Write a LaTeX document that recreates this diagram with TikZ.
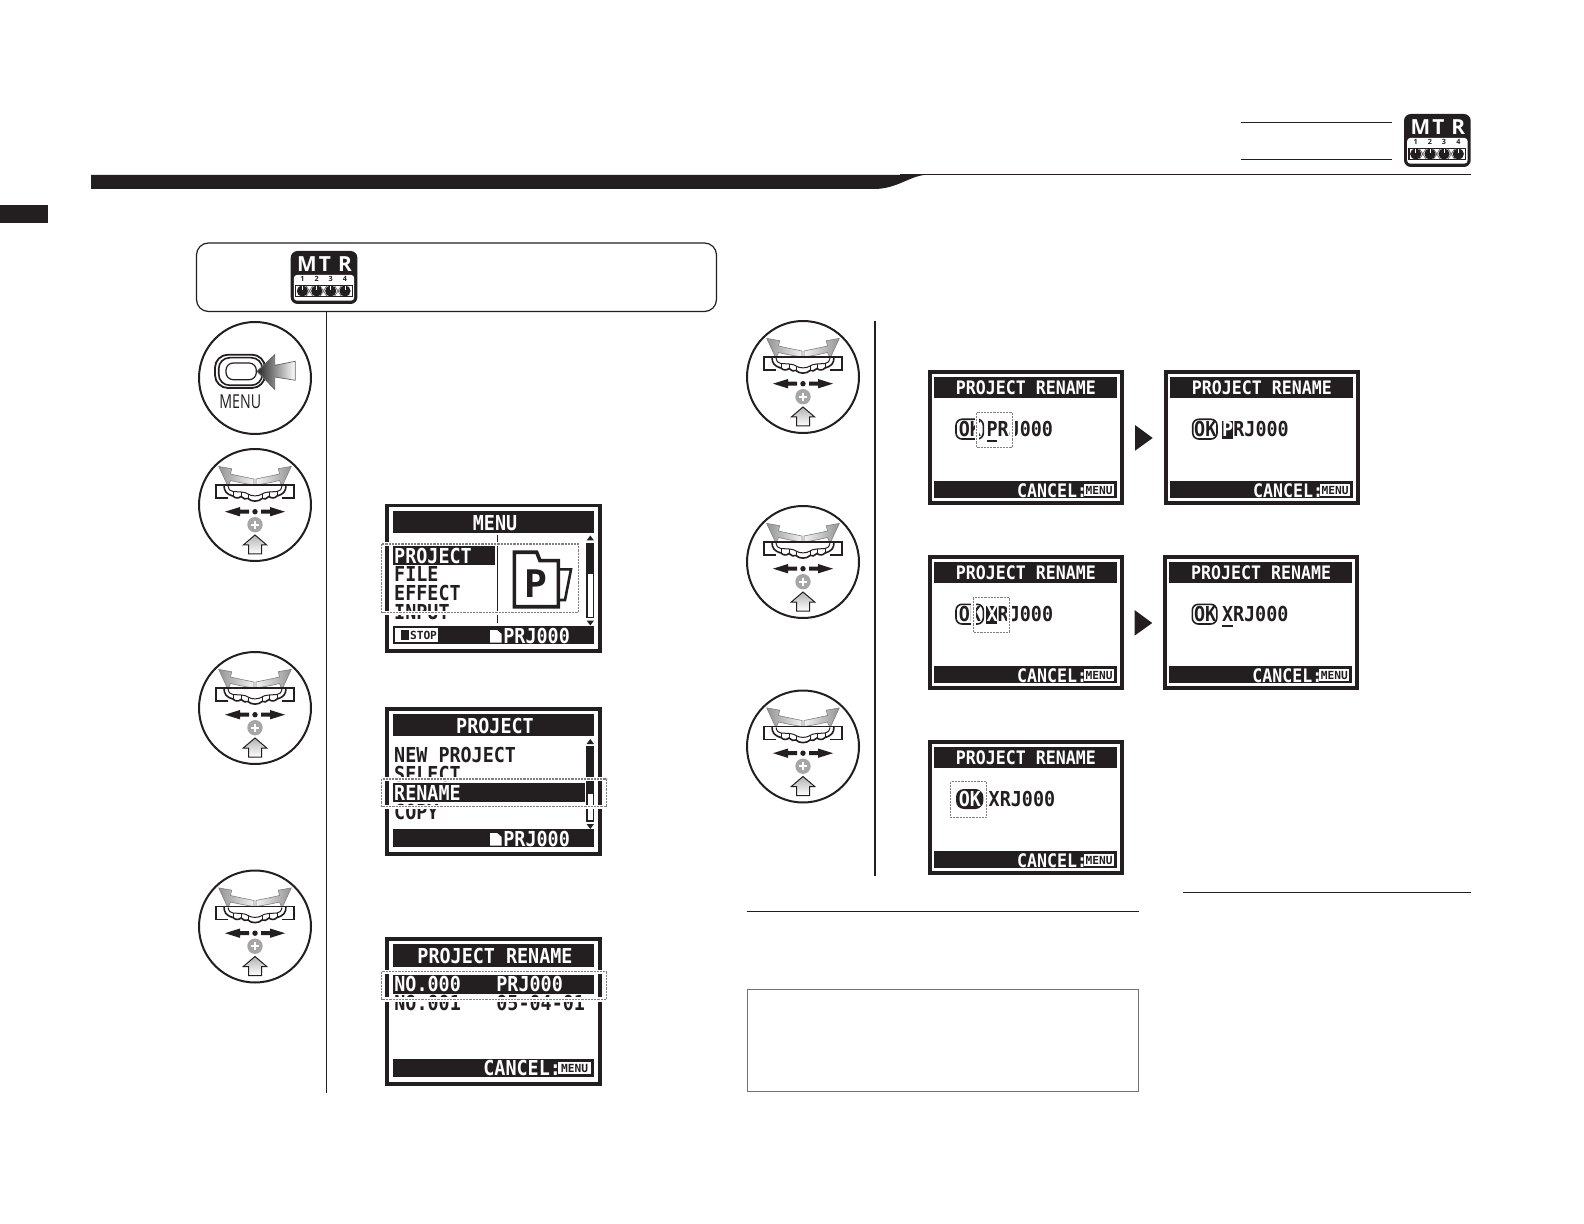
\documentclass[tikz,border=0pt]{standalone}
\usepackage{fontspec}
\setmainfont{Open Sans}
\newfontfamily\lcdfam{DejaVu Sans Mono}
\newfontfamily\iconfam{Open Sans}
\definecolor{ink}{HTML}{231F20}
\newcommand{\lcdA}{\lcdfam\bfseries\fontsize{9.2}{9.2}\selectfont}
\newcommand{\lcdB}{\lcdfam\bfseries\fontsize{8.3}{8.3}\selectfont}
\newcommand{\lcdC}{\lcdfam\bfseries\fontsize{5.6}{5.6}\selectfont}
\tikzset{
  txt/.style={inner sep=0pt,text height=6.8pt,text depth=0pt,anchor=west,text=ink,yscale=1.12,transform shape},
  ttl/.style={inner sep=0pt,text height=6.8pt,text depth=0pt,anchor=center,text=white,yscale=1.12,transform shape},
  tiny/.style={inner sep=0pt,text height=4.2pt,text depth=0pt,anchor=center,text=ink},
  rule/.style={draw=ink,line width=.5pt},
  halo/.style={draw=white,line width=2.2pt},
  dashbox/.style={draw=black!50,line width=.7pt,dash pattern=on 1.1pt off .5pt},
  plainok/.style={draw=ink,line width=.8pt,fill=white,rounded corners=3pt},
  mtricon/.pic={
    \fill[ink,rounded corners=3.4pt] (0,0) rectangle (66.7,53);
    \fill[white,rounded corners=1.5pt] (3.2,24) rectangle (63.5,49.6);
    \node[inner sep=0pt,text=white] (m) at (16.3,13.5) {\iconfam\bfseries\fontsize{10.4}{10.4}\selectfont M};
    \node[inner sep=0pt,text=white] (t) at (34.3,13.5) {\iconfam\bfseries\fontsize{10.4}{10.4}\selectfont T};
    \node[inner sep=0pt,text=white] (r) at (54.3,13.5) {\iconfam\bfseries\fontsize{10.4}{10.4}\selectfont R};
    \foreach \n/\xx in {1/11.7,2/26,3/40,4/54.3}{
      \node[inner sep=0pt,text=ink] (d\n) at (\xx,28.3) {\iconfam\bfseries\fontsize{3.6}{3.6}\selectfont \n};
    }
    \draw[ink,line width=.6pt] (5,34.5) rectangle (61.5,45.5);
    \foreach \xa/\xb in {15.5/22,29.5/36,44/50.5}{
      \draw[black!55,line width=.4pt] (\xa,35) -- (\xb,45) (\xa,45) -- (\xb,35);
    }
    \foreach \xx in {11.7,26,40,54.3}{
      \fill[ink] (\xx,40) circle[radius=5.6];
      \draw[white,line width=.5pt] (\xx,34.6) -- (\xx,39);
    }
  },
  menuicon/.pic={
    \draw[ink,line width=1pt,fill=white] (0,0) circle[radius=56];
    \draw[ink,line width=.9pt,rounded corners=6.5pt] (-40,-23.3) rectangle (10,10);
    \draw[ink,line width=.8pt,rounded corners=5.5pt] (-36.3,-20.3) rectangle (7.3,7.3);
    \draw[ink,line width=.6pt,rounded corners=3.6pt] (-29,-15) rectangle (1.3,1.7);
    \path[draw=black!60,line width=.35pt,left color=black!85,right color=white]
      (2,-6.7) -- (19.7,-23.3) -- (19.7,-12.7) -- (40.3,-16.7) -- (40.3,2.3) -- (19.7,-1) -- (19.7,11.3) -- cycle;
    \node[inner sep=0pt,text=ink] (lbl) at (-14.7,24) {\scalebox{.74}[1]{\fontsize{9.6}{9.6}\selectfont MENU}};
  },
  dial/.pic={
    \draw[ink,line width=1pt,fill=white] (0,0) circle[radius=56];
    \path[draw=black!50,line width=.3pt,left color=black!42,right color=black!5]
      (-36.3,-38.6) -- (-23.3,-36.3) -- (-24.5,-31) .. controls (-16,-29) and (-8,-27.5) .. (-1,-26)
      -- (-1,-20) .. controls (-8,-21) and (-16,-22.5) .. (-24.5,-24.5) -- (-27,-18.6) -- cycle;
    \path[draw=black!50,line width=.3pt,right color=black!42,left color=black!5]
      (36.3,-38.6) -- (23.3,-36.3) -- (24.5,-31) .. controls (16,-29) and (8,-27.5) .. (1,-26)
      -- (1,-20) .. controls (8,-21) and (16,-22.5) .. (24.5,-24.5) -- (27,-18.6) -- cycle;
    \fill[white] (-39,-20) -- (39,-20) -- (39,-7) -- (31,-7) -- (0,-3) -- (-31,-7) -- (-39,-7) -- cycle;
    \draw[ink,line width=.9pt] (-39,-20) -- (39,-20);
    \draw[ink,line width=.9pt] (-31,-20) -- (-39,-20) -- (-39,-7) -- (-27,-7);
    \draw[ink,line width=.9pt] (31,-20) -- (39,-20) -- (39,-7) -- (27,-7);
    \draw[ink,line width=.8pt] (-31,-20) .. controls (-31,-14) and (-29,-11) .. (-22,-9)
       .. controls (-20,-6.5) and (-16,-6.5) .. (-14,-8.5) .. controls (-12,-6) and (-9,-5.5) .. (-7,-6.5)
       .. controls (-4,-3) and (4,-3) .. (7,-6.5)
       .. controls (9,-5.5) and (12,-6) .. (14,-8.5) .. controls (16,-6.5) and (20,-6.5) .. (22,-9)
       .. controls (29,-11) and (31,-14) .. (31,-20);
    \draw[ink,line width=.5pt] (-27,-19) .. controls (-26,-15) and (-25,-14) .. (-22,-13.5) -- (-14,-13) .. controls (-10,-12.5) and (-8,-12) .. (-7,-11) .. controls (-4,-8.5) and (4,-8.5) .. (7,-11)
       .. controls (8,-12) and (10,-12.5) .. (14,-13) -- (22,-13.5) .. controls (25,-14) and (26,-15) .. (27,-19);
    \draw[ink,line width=.5pt] (-22,-13.5) -- (-22,-9) (-14,-13) -- (-14,-8.5) (-7,-11) -- (-7,-6.5) (7,-11) -- (7,-6.5) (14,-13) -- (14,-8.5) (22,-13.5) -- (22,-9);
    \fill[ink] (-30,6.7) -- (-15,2) -- (-15,4.7) -- (-6,4.7) -- (-6,8.7) -- (-15,8.7) -- (-15,11.4) -- cycle;
    \fill[ink] (30,6.7) -- (15,2) -- (15,4.7) -- (6,4.7) -- (6,8.7) -- (15,8.7) -- (15,11.4) -- cycle;
    \fill[ink] (0,6.7) circle[radius=2.7];
    \fill[black!35] (0,19.7) circle[radius=7.7];
    \draw[white,line width=1.1pt] (-4,19.7) -- (4,19.7) (0,15.7) -- (0,23.7);
    \path[draw=ink,line width=.5pt,top color=black!30,bottom color=white] (0,30) -- (11.7,40) -- (6.5,40) -- (6.5,49) -- (-6.5,49) -- (-6.5,40) -- (-11.7,40) -- cycle;
  },
  bigframe/.pic={
    \draw[ink,line width=1.75pt] (1.75,1.75) rectangle (214.9,146.9);
    \fill[ink] (8.3,6.8) rectangle (209,29.4);
    \fill[ink] (8.3,121.5) rectangle (209,140);
    \node[ttl] (title) at (110,18.8) {\lcdA #1};
  },
  smallframe/.pic={
    \draw[ink,line width=2pt] (2,2) rectangle (194,133);
    \fill[ink] (6,6.7) rectangle (188.7,27.7);
    \fill[ink] (6,111) rectangle (188.7,128.3);
    \node[ttl] (title) at (97.8,17.3) {\lcdB PROJECT RENAME};
    \node[txt,text=white] (cancel) at (88.7,119.5) {\lcdB CANCEL:};
    \fill[white] (156,114) rectangle (186,126);
    \node[tiny] (key) at (171,120) {\lcdC MENU};
  },
  scrollbar/.pic={
    \fill[ink] (0,-8) -- (3.7,-3) -- (-3.7,-3) -- cycle;
    \fill[ink] (0,82) -- (3.7,77) -- (-3.7,77) -- cycle;
    \draw[ink,line width=.6pt] (-3.4,0) rectangle (3.4,74);
    \fill[ink] (-3.4,0) rectangle (3.4,#1);
  },
  docicon/.pic={
    \fill[white] (0,0) -- (7,0) -- (11.7,4) -- (11.7,12.7) -- (0,12.7) -- cycle;
  }
}
\begin{document}
\begin{tikzpicture}[x=.5pt,y=-.5pt]
\useasboundingbox (0,0) rectangle (1584,1224);
\fill[white] (0,0) rectangle (1584,1224);

% page header
\fill[ink] (91,174.8) -- (925,174.8) .. controls (908,177) and (897,188.5) .. (875,189) -- (91,189) -- cycle;
\draw[ink,line width=.5pt] (900,175) -- (1471,175);
\fill[ink] (0,205) rectangle (47.5,223);
\draw[rule] (1241,122.3) -- (1392,122.3);
\draw[rule] (1241,159.3) -- (1392,159.3);
\pic (mtrtop) at (1404,114) {mtricon};

% left panel
\draw[draw=ink,line width=.6pt,rounded corners=6pt] (196.5,243) rectangle (716.5,311.5);
\pic (mtrbox) at (290.7,251) {mtricon};
\draw[rule] (326.3,311.5) -- (326.3,1093);
\draw[rule,line width=.75pt] (875,321) -- (875,876);

\pic (c1) at (255,378) {menuicon};
\pic (c2) at (255,505) {dial};
\pic (c3) at (255,708) {dial};
\pic (c4) at (255,926.5) {dial};
\pic (c5) at (803,377) {dial};
\pic (c6) at (803,562) {dial};
\pic (c7) at (803,746.5) {dial};

% screen: MENU
\pic (s1) at (385,504) {bigframe={MENU}};
\fill[ink] (393.3,546) rectangle (495,565);
\node[txt,text=white] (m1) at (393.8,555.7) {\lcdA PROJECT};
\node[txt] (m2) at (393.8,574) {\lcdA FILE};
\node[txt] (m3) at (393.8,592.7) {\lcdA EFFECT};
\node[txt] (m4) at (393.8,612) {\lcdA INPUT};
\draw[ink,line width=.45pt] (497.3,535) -- (497.3,623);
\draw[ink,line width=1.8pt] (514.3,552.3) -- (536.7,552.3) -- (540,560.7) -- (558.3,560.7) -- (558.3,606.7) -- (514.3,606.7) -- cycle;
\draw[ink,line width=1.3pt] (558.3,569.3) -- (571,569.3) -- (565,600) -- (558.3,600);
\node[inner sep=0pt,text=ink] (mp) at (535.5,584) {\lcdfam\bfseries\fontsize{19}{19}\selectfont P};
\pic (sb1) at (590.3,543.5) {scrollbar=30};
\fill[white] (395,628.3) rectangle (437.7,641.7);
\fill[ink] (400.7,630) rectangle (409.3,640);
\node[tiny] (mstop) at (423.5,635) {\lcdC STOP};
\pic (d1) at (490,630) {docicon};
\node[txt,text=white] (mprj) at (503,635.7) {\lcdA PRJ000};
\draw[halo] (381.7,544) rectangle (578.3,612.7);
\draw[dashbox] (381.7,544) rectangle (578.3,612.7);

% screen: PROJECT
\pic (s2) at (385,707) {bigframe={PROJECT}};
\node[txt] (p1) at (393.8,755) {\lcdA NEW PROJECT};
\node[txt] (p2) at (393.8,774) {\lcdA SELECT};
\fill[ink] (393.3,783.3) rectangle (585,801.7);
\node[txt,text=white] (p3) at (393.8,792.7) {\lcdA RENAME};
\node[txt] (p4) at (393.8,811.7) {\lcdA COPY};
\pic (sb2) at (590.3,747) {scrollbar=47};
\pic (d2) at (490,833) {docicon};
\node[txt,text=white] (pprj) at (503,839) {\lcdA PRJ000};
\draw[halo] (381.7,779) rectangle (606.7,806.7);
\draw[dashbox] (381.7,779) rectangle (606.7,806.7);

% screen: PROJECT RENAME list
\pic (s3) at (385,937.3) {bigframe={PROJECT RENAME}};
\fill[ink] (393.3,975) rectangle (594,994);
\node[txt,text=white] (l1) at (394,984.3) {\lcdA NO.000};
\node[txt,text=white] (l2) at (496,984.3) {\lcdA PRJ000};
\node[txt] (l3) at (394,1002.7) {\lcdA NO.001};
\node[txt] (l4) at (496,1002.7) {\lcdA 05-04-01};
\node[txt,text=white] (lc) at (483,1068.3) {\lcdA CANCEL:};
\fill[white] (558.3,1061.7) rectangle (590.7,1074.3);
\node[tiny] (lk) at (574.5,1068) {\lcdC MENU};
\draw[halo] (381.7,971.7) rectangle (606.7,999.3);
\draw[dashbox] (381.7,971.7) rectangle (606.7,999.3);

% small screens
\begin{scope}[shift={(928,370)}]
  \pic (a) at (0,0) {smallframe};
  \draw[plainok] (28,49.3) rectangle (55.3,69);
  \node[txt] (aok) at (30.5,59) {\lcdA OK};
  \node[txt] (atx) at (58.2,59) {\lcdA PRJ000};
  \fill[ink] (58.7,69.6) rectangle (69,71.6);
  \draw[halo] (48.7,42.7) rectangle (84.3,77.3);
  \draw[dashbox] (48.7,42.7) rectangle (84.3,77.3);
\end{scope}
\begin{scope}[shift={(1164,370)}]
  \pic (b) at (0,0) {smallframe};
  \draw[plainok] (28.7,49.3) rectangle (53,69);
  \node[txt] (bok) at (29.8,59) {\lcdA OK};
  \fill[ink] (57.7,50.8) rectangle (68.7,69);
  \node[txt,text=white] (bp) at (57.7,59) {\lcdA P};
  \node[txt] (btx) at (69,59) {\lcdA RJ000};
\end{scope}
\begin{scope}[shift={(928,555)}]
  \pic (c) at (0,0) {smallframe};
  \draw[plainok] (28,49.3) rectangle (55.3,69);
  \node[txt] (cok) at (30.5,59) {\lcdA OK};
  \fill[ink] (58,50.8) rectangle (69.3,69);
  \node[txt,text=white] (cx) at (58.1,59) {\lcdA X};
  \node[txt] (ctx) at (69.3,59) {\lcdA RJ000};
  \draw[halo] (45.3,42.7) rectangle (81.3,77.3);
  \draw[dashbox] (45.3,42.7) rectangle (81.3,77.3);
\end{scope}
\begin{scope}[shift={(1163.3,555)}]
  \pic (d) at (0,0) {smallframe};
  \draw[plainok] (29,49.3) rectangle (53.5,69);
  \node[txt] (dok) at (30.3,59) {\lcdA OK};
  \node[txt] (dtx) at (58.3,59) {\lcdA XRJ000};
  \fill[ink] (58.3,69.6) rectangle (69.3,71.6);
\end{scope}
\begin{scope}[shift={(928,740)}]
  \pic (e) at (0,0) {smallframe};
  \draw[halo] (22.7,41.7) rectangle (58.7,77.7);
  \draw[dashbox] (22.7,41.7) rectangle (58.7,77.7);
  \fill[ink,rounded corners=4pt] (28,49) rectangle (55.3,69);
  \node[txt,text=white] (eok) at (30.5,58.5) {\lcdA OK};
  \node[txt] (etx) at (60.3,58.5) {\lcdA XRJ000};
\end{scope}

% arrows between screens
\fill[ink] (1135,425) -- (1152.7,438) -- (1135,450.7) -- cycle;
\fill[ink] (1134.5,610) -- (1152.2,623) -- (1134.5,635.7) -- cycle;

% notes
\draw[rule] (746.6,911.5) -- (1138.5,911.5);
\draw[rule] (1183,892.3) -- (1471,892.3);
\draw[draw=black!55,line width=.5pt] (747.2,989.3) rectangle (1138.5,1091.5);
\end{tikzpicture}
\end{document}
